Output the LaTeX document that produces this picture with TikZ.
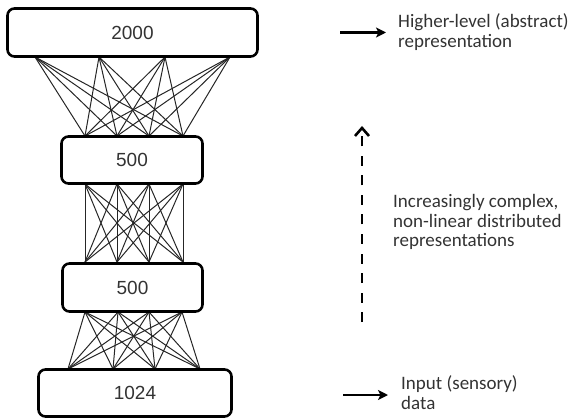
\documentclass[tikz,border=0pt]{standalone}
\usepackage{fontspec}
\setmainfont{Liberation Sans}
\newfontfamily\calib{Carlito}
\usetikzlibrary{arrows.meta}
\begin{document}
\begin{tikzpicture}[x=1pt,y=-1pt,
  layer/.style={draw=black,line width=2.6pt,rounded corners=7pt,fill=white,inner sep=0pt,
     font=\fontsize{19}{22}\selectfont,text=black!80},
  conn/.style={draw=black!85,line width=1pt},
  lbl/.style={anchor=base west,align=left,inner sep=0pt,text=black!80,
     font=\calib\fontsize{19}{20}\selectfont},
  sarrow/.style={line width=2.6pt,-{Stealth[length=10pt,width=10pt,inset=2.5pt]}}]
\useasboundingbox (0,0) rectangle (569,419);
% coordinates
\foreach \n/\x in {1/35,2/99,3/165,4/230}{\coordinate (a\n) at (\x,57);}
\foreach \n/\x in {1/85,2/117,3/149,4/183}{\coordinate (b\n) at (\x,136);}
\foreach \n/\x in {1/85,2/117,3/149,4/183}{\coordinate (c\n) at (\x,184);}
\foreach \n/\x in {1/85,2/117,3/149,4/183}{\coordinate (d\n) at (\x,262);}
\foreach \n/\x in {1/85,2/118,3/149,4/182}{\coordinate (e\n) at (\x,312);}
\foreach \n/\x in {1/68,2/113,3/155,4/200}{\coordinate (f\n) at (\x,369);}
\foreach \i in {1,...,4}{\foreach \j in {1,...,4}{
  \draw[conn] (a\i) -- (b\j);
  \draw[conn] (c\i) -- (d\j);
  \draw[conn] (e\i) -- (f\j);
}}
% layers
\node[layer,minimum width=250pt,minimum height=48pt] (l4) at (132.5,32.5) {2000};
\node[layer,minimum width=141pt,minimum height=47pt] (l3) at (132,160) {500};
\node[layer,minimum width=140pt,minimum height=48pt] (l2) at (132.5,287.5) {500};
\node[layer,minimum width=193pt,minimum height=47pt] (l1) at (135,393) {1024};
% right side
\coordinate (h0) at (340,32.5); \coordinate (h1) at (386,32.5);
\draw[sarrow] (h0) -- (h1);
\node[lbl] (ht) at (398,48) {Higher-level (abstract)\\representation};
\coordinate (i0) at (343,395); \coordinate (i1) at (388,395);
\draw[sarrow] (i0) -- (i1);
\node[lbl] (it) at (401,409) {Input (sensory)\\data};
\coordinate (m0) at (362,322); \coordinate (m1) at (362,126);
\draw[line width=2.6pt,dash pattern=on 10pt off 9.5pt,-{Straight Barb[length=8pt,width=14pt,line width=2.6pt]}] (m0) -- (m1);
\node[lbl,font=\calib\fontsize{19}{19.5}\selectfont] (mt) at (393,247) {Increasingly complex,\\non-linear distributed\\representations};
\end{tikzpicture}
\end{document}
